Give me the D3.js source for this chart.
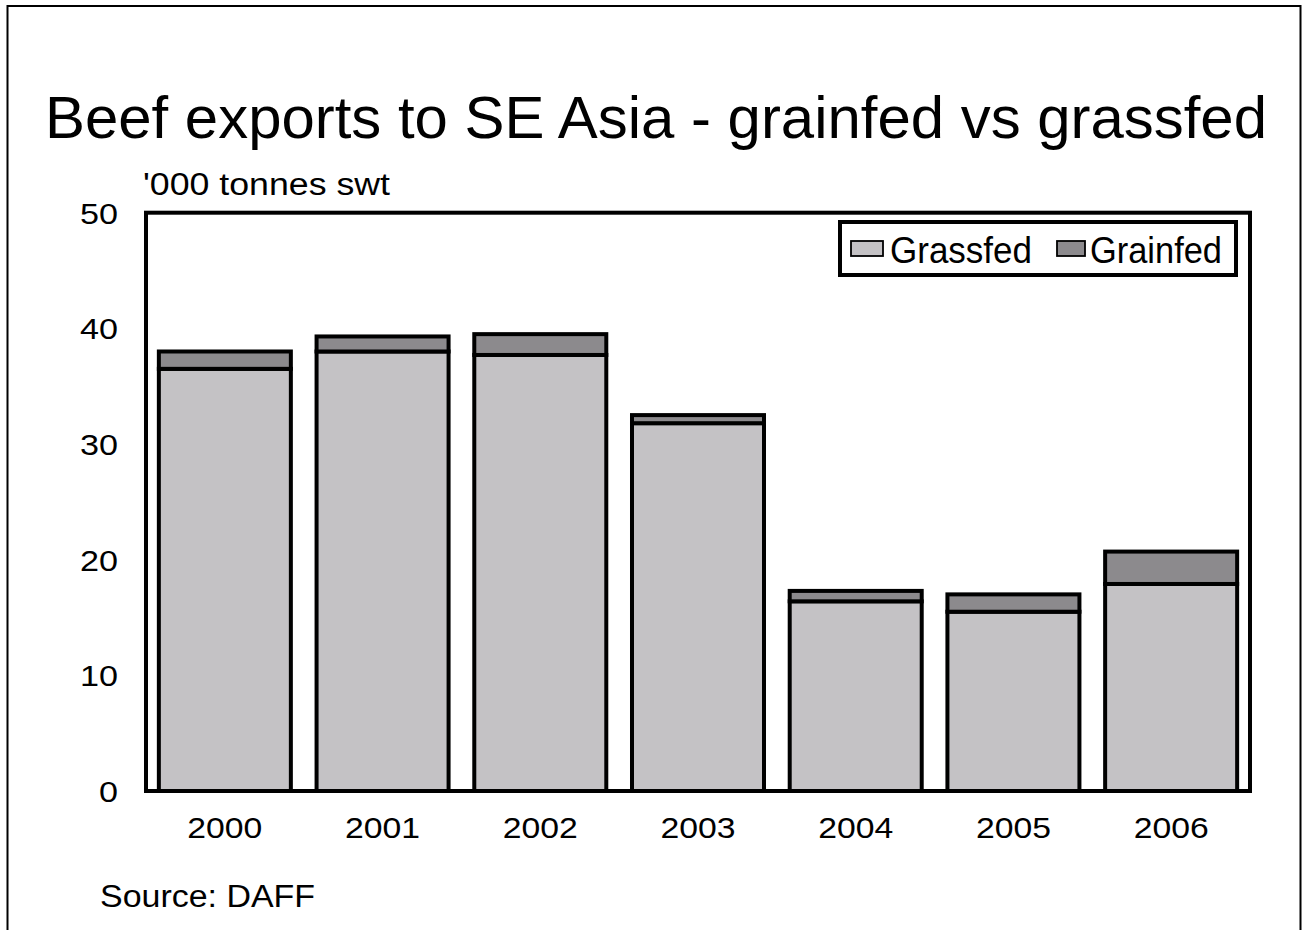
<!DOCTYPE html>
<html>
<head>
<meta charset="utf-8">
<script src="https://cdn.jsdelivr.net/npm/d3@7"></script>
<style>
  html, body { margin: 0; padding: 0; background: #fff; }
  svg { display: block; }
  text { font-family: "Liberation Sans", Arial, Helvetica, sans-serif; fill: #000; }
</style>
</head>
<body>
<svg id="chart" width="1308" height="930"></svg>
<script>
// Beef exports to SE Asia, '000 tonnes shipped weight
const years = ["2000", "2001", "2002", "2003", "2004", "2005", "2006"];
const grassfed = [36.5, 38.0, 37.7, 31.8, 16.4, 15.5, 17.9];
const grainfed = [1.5, 1.3, 1.8, 0.7, 0.9, 1.5, 2.8];
const seriesNames = ["Grassfed", "Grainfed"];
const seriesColors = ["#c4c2c5", "#8c8a8d"];
const yTicks = [0, 10, 20, 30, 40, 50];

const svg = d3.select("#chart");

// outer frame (open at the bottom)
svg.append("path")
  .attr("d", "M7.5,930 V6 H1300.5 V930")
  .attr("fill", "none").attr("stroke", "#000").attr("stroke-width", 2);

const plot = { left: 146, right: 1250, top: 212.7, bottom: 791 };

const x = d3.scaleBand()
  .domain(years)
  .range([plot.left, plot.right])
  .paddingInner(0.163)
  .paddingOuter(0.0815);

const y = d3.scaleLinear()
  .domain([0, 50])
  .range([plot.bottom, plot.top]);

const rows = years.map((yr, i) => ({ year: yr, Grassfed: grassfed[i], Grainfed: grainfed[i] }));
const stacked = d3.stack().keys(seriesNames)(rows);

svg.append("g").selectAll("g")
  .data(stacked)
  .join("g")
  .attr("fill", (d, i) => seriesColors[i])
  .selectAll("rect")
  .data(d => d)
  .join("rect")
  .attr("x", d => x(d.data.year))
  .attr("width", x.bandwidth())
  .attr("y", d => y(d[1]))
  .attr("height", d => y(d[0]) - y(d[1]))
  .attr("stroke", "#000")
  .attr("stroke-width", 4);

// plot frame
svg.append("rect")
  .attr("x", plot.left).attr("y", plot.top)
  .attr("width", plot.right - plot.left).attr("height", plot.bottom - plot.top)
  .attr("fill", "none").attr("stroke", "#000").attr("stroke-width", 4);

// y axis labels
const yAxis = svg.append("g")
  .attr("transform", `translate(${plot.left},0)`)
  .call(d3.axisLeft(y).tickValues(yTicks).tickSize(0).tickPadding(28).tickFormat(d3.format("d")));
yAxis.select(".domain").remove();
yAxis.selectAll("text")
  .style("font-family", "'Liberation Sans', Arial, sans-serif")
  .style("font-size", "29px")
  .attr("fill", "#000")
  .attr("dy", "0.36em")
  .attr("textLength", d => String(d).length * 19)
  .attr("lengthAdjust", "spacingAndGlyphs");

// x axis labels
const xAxis = svg.append("g")
  .attr("transform", `translate(0,${plot.bottom})`)
  .call(d3.axisBottom(x).tickSize(0).tickPadding(26));
xAxis.select(".domain").remove();
xAxis.selectAll("text")
  .style("font-family", "'Liberation Sans', Arial, sans-serif")
  .style("font-size", "30px")
  .attr("fill", "#000")
  .attr("textLength", 75)
  .attr("lengthAdjust", "spacingAndGlyphs");

// title and subtitle
svg.append("text")
  .attr("x", 45).attr("y", 138)
  .style("font-size", "60px")
  .attr("textLength", 1222).attr("lengthAdjust", "spacingAndGlyphs")
  .text("Beef exports to SE Asia - grainfed vs grassfed");

svg.append("text")
  .attr("x", 143).attr("y", 195)
  .style("font-size", "31px")
  .attr("textLength", 247).attr("lengthAdjust", "spacingAndGlyphs")
  .text("'000 tonnes swt");

// legend
svg.append("rect")
  .attr("x", 840).attr("y", 222).attr("width", 396).attr("height", 53)
  .attr("fill", "#fff").attr("stroke", "#000").attr("stroke-width", 4);

const legendItems = [
  { x: 851, tx: 890, w: 142 },
  { x: 1057, tx: 1090, w: 132 }
];
const lg = svg.append("g").selectAll("g")
  .data(seriesNames)
  .join("g");
lg.append("rect")
  .attr("x", (d, i) => legendItems[i].x)
  .attr("y", 241)
  .attr("width", (d, i) => i === 0 ? 32 : 28)
  .attr("height", 15)
  .attr("fill", (d, i) => seriesColors[i])
  .attr("stroke", "#000").attr("stroke-width", 1.8);
lg.append("text")
  .attr("x", (d, i) => legendItems[i].tx)
  .attr("y", 263)
  .style("font-size", "37px")
  .attr("textLength", (d, i) => legendItems[i].w)
  .attr("lengthAdjust", "spacingAndGlyphs")
  .text(d => d);

// source note
svg.append("text")
  .attr("x", 100).attr("y", 907)
  .style("font-size", "31px")
  .attr("textLength", 215).attr("lengthAdjust", "spacingAndGlyphs")
  .text("Source: DAFF");
</script>
</body>
</html>
